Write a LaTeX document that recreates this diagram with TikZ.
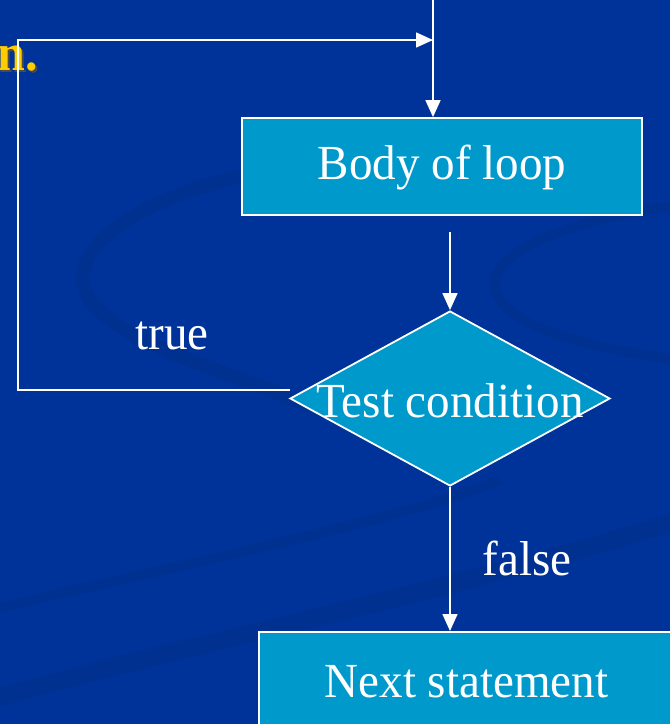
\documentclass[tikz,border=0pt]{standalone}
\usepackage{fontspec}
\setmainfont[FakeStretch=0.96]{Liberation Serif}
\usetikzlibrary{shapes.geometric,arrows.meta}
\definecolor{bg}{HTML}{003399}
\definecolor{swirl}{HTML}{003090}
\definecolor{boxfill}{HTML}{0099CC}
\definecolor{gold}{HTML}{FFCC00}
\tikzset{
  flowbox/.style={draw=white,line width=1.8pt,fill=boxfill,rectangle,inner sep=0pt},
  decbox/.style={draw=white,line width=1.8pt,fill=boxfill,diamond,inner sep=0pt},
  lbl/.style={text=white,font=\fontsize{49}{54}\selectfont,inner sep=0pt},
  conn/.style={draw=white,line width=1.6pt},
  arr/.style={conn,-{Triangle[width=15pt,length=17pt]}},
}
\begin{document}
\begin{tikzpicture}[x=1pt,y=-1pt]
\useasboundingbox (0,0) rectangle (670,724);
\clip (0,0) rectangle (670,724);
\fill[bg] (0,0) rectangle (670,724);
% faint background swirls
\draw[swirl,line width=14pt,line cap=round] (260,172) .. controls (120,200) and (60,260) .. (90,300) .. controls (130,350) and (230,370) .. (320,410);
\draw[swirl,line width=10pt,line cap=round] (680,205) .. controls (560,220) and (470,260) .. (500,300) .. controls (520,330) and (600,350) .. (680,360);
\draw[swirl,line width=18pt] (-10,700) .. controls (200,640) and (420,600) .. (680,520);
\draw[swirl,line width=10pt] (-10,610) .. controls (200,560) and (400,520) .. (500,480);
% title remnant (with shadow)
\node[anchor=base east,text=gold,font=\bfseries\fontsize{52}{56}\selectfont,inner sep=0pt] (title) at (38,70) {\rlap{\raisebox{-2pt}{\hspace{2pt}\color{black!70}n.}}n.};
% nodes
\node[flowbox,minimum width=400pt,minimum height=97pt] (body) at (442,166.5) {};
\node[lbl] (bodytxt) at (442,168) {Body of loop};
\node[decbox,minimum width=320pt,minimum height=175pt] (test) at (450,398.5) {};
\node[lbl] (testtxt) at (450,401) {Test condition};
\node[flowbox,minimum width=420pt,minimum height=110pt,anchor=north west] (next) at (258,631) {};
\node[lbl] (nexttxt) at (466.5,682) {Next statement};
\node[lbl] (truelbl) at (172,336) {true};
\node[lbl] (falselbl) at (527,558) {false};
% coordinates
\coordinate (topin) at (433,-2);
\coordinate (tl) at (18,40);
\coordinate (bl) at (18,390);
\coordinate (tend) at (290,390);
\coordinate (bodyout) at (450,232);
% connectors
\draw[arr] (topin) -- (topin |- body.north);
\draw[arr] (tend) -- (bl) -- (tl) -- (topin |- tl);
\draw[arr] (bodyout) -- (test.north);
\draw[arr] (test.south) -- (test.south |- next.north);
\end{tikzpicture}
\end{document}
